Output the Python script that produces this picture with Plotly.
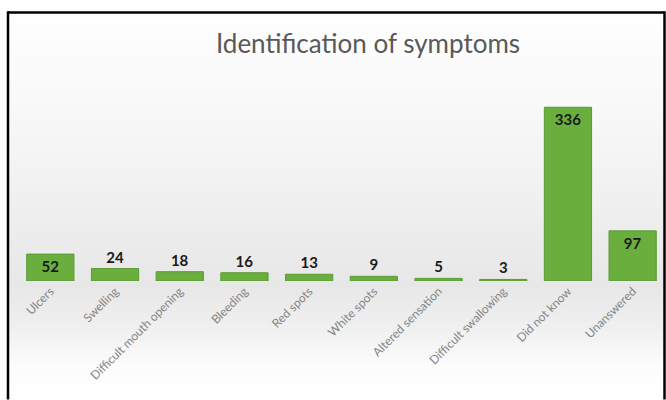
import plotly.graph_objects as go

categories = ["Ulcers", "Swelling", "Difficult mouth opening", "Bleeding", "Red spots",
              "White spots", "Altered sensation", "Difficult swallowing", "Did not know", "Unanswered"]
values = [52, 24, 18, 16, 13, 9, 5, 3, 336, 97]
label_positions = ["inside", "outside", "outside", "outside", "outside",
                   "outside", "outside", "outside", "inside", "inside"]
title_text = "Identification of symptoms"

W, H = 666, 400
ML, MR, MT, MB = 18, 1, 100, 119
plot_h = H - MT - MB
plot_w = W - ML - MR


def px_to_paper_y(py):
    return (H - MB - py) / plot_h


def px_to_paper_x(px):
    return (px - ML) / plot_w


fig = go.Figure()
fig.add_trace(go.Bar(
    x=categories, y=values,
    text=[str(v) for v in values],
    textposition=label_positions,
    insidetextanchor="end",
    constraintext="none",
    textfont=dict(family="Lato", size=15, color="#1a1a1a", weight="bold"),
    marker=dict(color="#6aae3e", line=dict(color="#5b9a34", width=1)),
    cliponaxis=False,
))

def grey_at(py):
    stops = [(0, 255), (100, 249), (200, 240), (285, 231), (330, 240), (365, 252), (400, 255)]
    for (y0, c0), (y1, c1) in zip(stops, stops[1:]):
        if y0 <= py <= y1:
            t = (py - y0) / (y1 - y0)
            return round(c0 + (c1 - c0) * t)
    return 255

LEFT, RIGHT, TOP, BOTTOM = 8, 664.5, 12.5, 399.5
shapes = []
step = 5
for py in range(12, 400, step):
    g = grey_at(py + step / 2)
    shapes.append(dict(type="rect", xref="paper", yref="paper",
                       x0=px_to_paper_x(LEFT), x1=px_to_paper_x(RIGHT),
                       y0=px_to_paper_y(min(py + step, BOTTOM)), y1=px_to_paper_y(py),
                       fillcolor=f"rgb({g},{g},{g})", line=dict(width=0), layer="below"))
# chart frame: left, top and right edges (bottom edge is outside the picture)
frame = [((LEFT, TOP), (RIGHT, TOP)),
         ((LEFT, TOP - 1.2), (LEFT, BOTTOM)),
         ((RIGHT, TOP - 1.2), (RIGHT, BOTTOM))]
for (xa, ya), (xb, yb) in frame:
    shapes.append(dict(type="line", xref="paper", yref="paper",
                       x0=px_to_paper_x(xa), x1=px_to_paper_x(xb),
                       y0=px_to_paper_y(ya), y1=px_to_paper_y(yb),
                       line=dict(color="#000000", width=2.5), layer="above"))

fig.update_layout(
    width=W, height=H,
    margin=dict(l=ML, r=MR, t=MT, b=MB, pad=0),
    paper_bgcolor="#ffffff",
    plot_bgcolor="rgba(0,0,0,0)",
    bargap=0.27,
    showlegend=False,
    title=dict(text=title_text, x=px_to_paper_x(368), xref="paper", xanchor="center",
               y=1 - 44 / H, yanchor="middle",
               font=dict(family="Lato", size=26, color="#595959")),
    xaxis=dict(tickangle=-45, tickfont=dict(family="Lato", size=12, color="#858585"),
               showgrid=False, showline=False, ticks="", zeroline=False),
    yaxis=dict(range=[0, 350], visible=False, showgrid=False, zeroline=False),
    shapes=shapes,
)

fig.write_html("out.html")
